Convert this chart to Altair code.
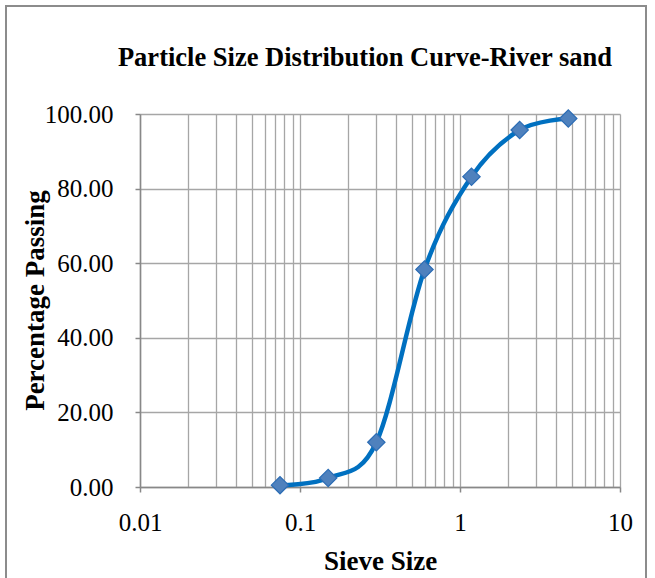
import altair as alt
import pandas as pd

sieve_size = [0.075, 0.15, 0.3, 0.6, 1.18, 2.36, 4.75]
percent_passing = [0.5, 2.4, 12.0, 58.3, 83.2, 95.7, 98.8]

x_grid_values = [m * d for d in [0.01, 0.1, 1.0] for m in range(1, 10)] + [10.0]
y_tick_values = [0, 20, 40, 60, 80, 100]

df = pd.DataFrame({"size": sieve_size, "passing": percent_passing})

FONT = "Liberation Serif"
GRID = "#A6A6A6"
is_major = "abs(log(datum.value)/LN10 - round(log(datum.value)/LN10)) < 1e-6"

x_enc = alt.X(
    "size:Q",
    scale=alt.Scale(type="log", domain=[0.01, 10], nice=False),
    axis=alt.Axis(
        title="Sieve Size",
        values=x_grid_values,
        format="~g",
        labelExpr=f"({is_major}) ? datum.label : ''",
        grid=True,
        gridColor=GRID,
        gridWidth=1.3,
        tickOpacity={"condition": {"test": is_major, "value": 1}, "value": 0},
        tickColor="#888888",
        tickSize=5,
        tickWidth=1.5,
        domainColor="#888888",
        domainWidth=1.5,
        labelFont=FONT,
        labelFontSize=25,
        labelColor="black",
        labelPadding=18,
        labelFlush=False,
        labelOverlap=False,
        titleFont=FONT,
        titleFontSize=27,
        titleFontWeight="bold",
        titleColor="black",
        titleX=240,
        titleY=74,
        titleBaseline="middle",
    ),
)

y_enc = alt.Y(
    "passing:Q",
    scale=alt.Scale(domain=[0, 100], nice=False),
    axis=alt.Axis(
        title="Percentage Passing",
        values=y_tick_values,
        format=".2f",
        grid=True,
        gridColor=GRID,
        gridWidth=1.3,
        tickColor="#888888",
        tickSize=5,
        tickWidth=1.5,
        domainColor="#888888",
        domainWidth=1.5,
        labelFont=FONT,
        labelFontSize=25,
        labelColor="black",
        labelPadding=22,
        labelFlush=False,
        titleFont=FONT,
        titleFontSize=27,
        titleFontWeight="bold",
        titleColor="black",
        titleAngle=-90,
        titleX=-105,
        titleY=186,
        titleAlign="center",
        titleBaseline="middle",
    ),
)

frame = alt.Chart(pd.DataFrame({"a": [0]})).mark_rect(
    fill=None, stroke="#8C8C8C", strokeWidth=2, clip=False
).encode(
    x=alt.value(-134), x2=alt.value(506), y=alt.value(-108), y2=alt.value(520)
)

line = alt.Chart(df).mark_line(
    color="#0070C0", strokeWidth=4.5, interpolate="cardinal"
).encode(x=x_enc, y=y_enc)

points = alt.Chart(df).mark_point(
    shape="diamond", filled=True, fill="#4F81BD", stroke="#2C6DB5",
    strokeWidth=1.2, size=300, opacity=1
).encode(x="size:Q", y="passing:Q")

chart = alt.layer(frame, line, points).properties(
    width=480,
    height=373,
    title=alt.TitleParams(
        "Particle Size Distribution Curve-River sand",
        font=FONT,
        fontSize=26.5,
        fontWeight="bold",
        color="black",
        anchor="middle",
        dx=-15,
        offset=-66,
    ),
    padding={"left": 140, "top": 114, "right": 35, "bottom": 91},
    autosize=alt.AutoSizeParams(type="none"),
    background="white",
).configure_view(stroke=None)

chart.save("out.html", embed_options={"renderer": "svg", "actions": False})
